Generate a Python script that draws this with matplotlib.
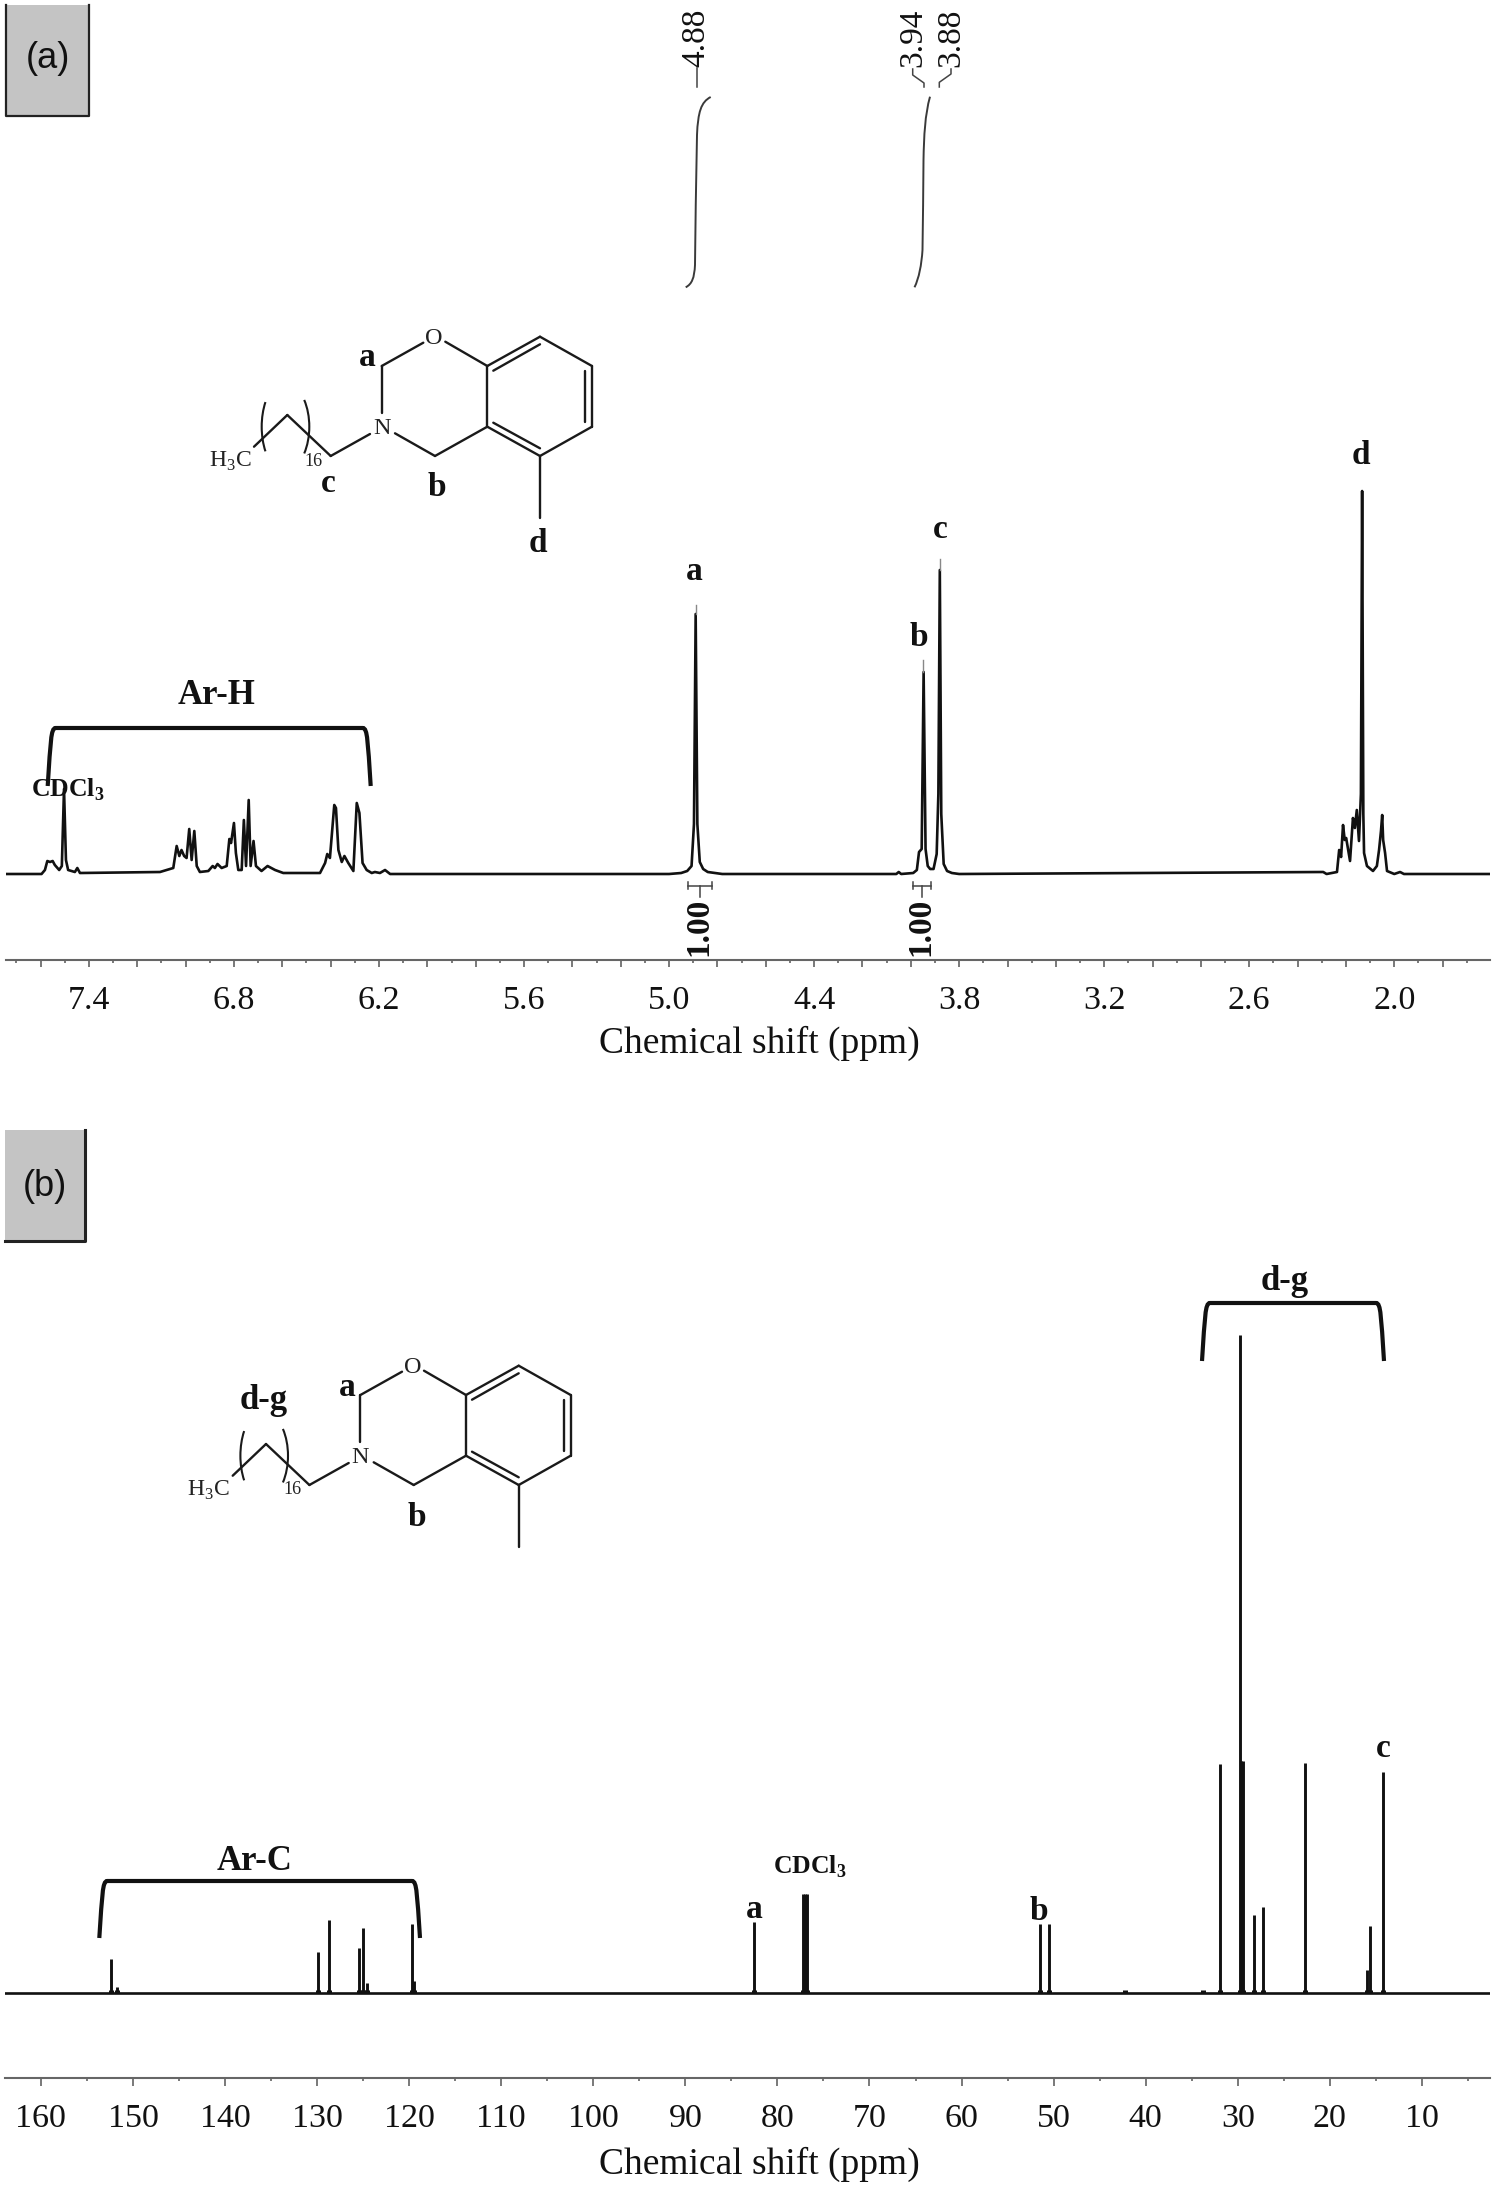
import matplotlib
matplotlib.use('Agg')
import matplotlib.pyplot as plt
from matplotlib.path import Path
from matplotlib.patches import PathPatch, Rectangle, Arc
from matplotlib.ticker import MultipleLocator

plt.rcParams['font.family'] = ['Liberation Serif', 'DejaVu Serif']
plt.rcParams['mathtext.fontset'] = 'custom'
plt.rcParams['mathtext.rm'] = 'Liberation Serif'
plt.rcParams['mathtext.bf'] = 'Liberation Serif:bold'

W, H = 1494, 2189

# 1H spectrum: trace (ppm, height above baseline)
h_ppm = [7.741, 7.596, 7.582, 7.572, 7.561, 7.55, 7.541, 7.523, 7.512, 7.503, 7.495, 7.486, 7.458, 7.448, 7.437,
         7.106, 7.051, 7.037, 7.026, 7.017, 7.006, 6.996, 6.985, 6.975, 6.964, 6.954, 6.941, 6.906, 6.888, 6.879,
         6.868, 6.851, 6.83, 6.819, 6.812, 6.8, 6.792, 6.782, 6.768, 6.759, 6.75, 6.739, 6.731, 6.719, 6.709,
         6.686, 6.661, 6.63, 6.596, 6.444, 6.423, 6.414, 6.403, 6.392, 6.385, 6.378, 6.368, 6.354, 6.343, 6.327,
         6.306, 6.292, 6.281, 6.268, 6.251, 6.23, 6.217, 6.196, 6.175, 6.154,
         5.0, 4.95, 4.925, 4.907, 4.897, 4.89, 4.883, 4.873, 4.859, 4.84, 4.81, 4.78,
         4.06, 4.05, 4.04, 3.99, 3.975, 3.966, 3.955, 3.947, 3.939, 3.93, 3.92, 3.906, 3.893, 3.886, 3.88, 3.874,
         3.864, 3.85, 3.83, 3.8,
         2.294, 2.28, 2.237, 2.228, 2.22, 2.212, 2.205, 2.199, 2.183, 2.171, 2.163, 2.155, 2.146, 2.138, 2.133, 2.128,
         2.125, 2.113, 2.088, 2.072, 2.063, 2.055, 2.05, 2.046, 2.038, 2.03, 2.0, 1.976, 1.96, 1.604]
h_int = [0, 0, 4, 13, 12, 13, 9, 4, 8, 85, 14, 4, 2, 6, 1,
         2, 6, 28, 18, 24, 18, 16, 45, 14, 43, 8, 2, 3, 8, 6,
         10, 6, 8, 35, 31, 51, 21, 4, 4, 54, 8, 74, 8, 33, 8,
         3, 8, 4, 1, 1, 11, 20, 16, 49, 69, 66, 24, 12, 18, 11,
         3, 71, 61, 11, 4, 1, 2, 1, 4, 0,
         0, 1, 3, 8, 50, 260, 50, 12, 5, 2, 1, 0,
         0, 2, 0, 1, 4, 22, 25, 202, 25, 8, 5, 5, 20, 80, 304, 60,
         10, 3, 1, 0,
         2, 0, 2, 24, 17, 49, 34, 36, 13, 56, 46, 64, 33, 80, 383, 60,
         21, 8, 3, 8, 24, 43, 59, 34, 21, 3, 0, 2, 0, 0]

# 13C spectrum: stick peaks
c_ppm = [152.37, 151.75, 129.86, 128.73, 125.43, 124.97, 124.6, 119.72, 119.45, 82.55, 77.25, 77.0, 76.75,
         51.5, 50.5, 42.2, 33.8, 31.98, 29.8, 29.6, 29.42, 28.27, 27.3, 22.7, 15.98, 15.6, 14.24]
c_int = [34, 6, 41, 73, 45, 65, 10, 69, 12, 71, 99, 99, 99,
         69, 69, 2, 2, 229, 658, 232, 232, 78, 86, 230, 23, 67, 221]

# major ticks of (a) every 0.2 ppm, only these are labelled
h_major = [7.6, 7.4, 7.2, 7.0, 6.8, 6.6, 6.4, 6.2, 6.0, 5.8, 5.6, 5.4, 5.2, 5.0, 4.8, 4.6, 4.4, 4.2, 4.0, 3.8,
           3.6, 3.4, 3.2, 3.0, 2.8, 2.6, 2.4, 2.2, 2.0, 1.8]
h_labelled = [7.4, 6.8, 6.2, 5.6, 5.0, 4.4, 3.8, 3.2, 2.6, 2.0]
c_ticks = [160, 150, 140, 130, 120, 110, 100, 90, 80, 70, 60, 50, 40, 30, 20, 10]


def axes_at(fig, x0, x1, ytop, ybot):
    return fig.add_axes([x0 / W, 1 - ybot / H, (x1 - x0) / W, (ybot - ytop) / H])


def setup_axis(ax, ticks, labels, minor, pad, major_len, ylim, label_y):
    ax.set_ylim(*ylim)
    ax.set_xticks(ticks)
    ax.set_xticklabels(labels, fontsize=24.5, color='#111111')
    ax.xaxis.set_minor_locator(MultipleLocator(minor))
    ax.tick_params(axis='x', which='major', length=major_len, width=1.1, color='#555555', pad=pad)
    ax.tick_params(axis='x', which='minor', length=2.5, width=1.1, color='#555555')
    ax.set_yticks([])
    ax.patch.set_visible(False)
    for s in ['top', 'left', 'right']:
        ax.spines[s].set_visible(False)
    ax.spines['bottom'].set_color('#666666')
    ax.spines['bottom'].set_linewidth(1.5)
    ax.set_xlabel('Chemical shift (ppm)', fontsize=27, color='#111111', va='center')
    ax.xaxis.set_label_coords(0.508, label_y)


fig = plt.figure(figsize=(W / 100, H / 100), dpi=100)

# panel (a)
ax_a = axes_at(fig, 6, 1490, 90, 960)
ax_a.set_xlim(7.743, 1.604)
ax_a.plot(h_ppm, h_int, color='#111111', lw=1.9, solid_joinstyle='round')
h_labels = [str(t) if t in h_labelled else '' for t in h_major]
setup_axis(ax_a, h_major, h_labels, 0.1, 13.7, 5, (-86, 784), -(1043 - 960) / (960 - 90))

# panel (b)
ax_b = axes_at(fig, 5, 1490, 1250, 2078)
ax_b.set_xlim(163.9, 2.6)
ax_b.axhline(0, color='#111111', lw=1.9)
ax_b.vlines(c_ppm, 0, c_int, color='#111111', lw=2.1)
ax_b.vlines(c_ppm, 0, 3, color='#111111', lw=3.6)
setup_axis(ax_b, c_ticks, [str(t) for t in c_ticks], 5, 13, 5.5, (-85, 743), -(2164 - 2078) / (2078 - 1250))

# overlay in picture pixels for labels, brackets and the structures
ov = fig.add_axes([0, 0, 1, 1])
ov.set_xlim(0, W)
ov.set_ylim(H, 0)
ov.axis('off')
ov.patch.set_visible(False)


def bond(x0, y0, x1, y1, lw=1.7, color='#1a1a1a'):
    ov.plot([x0, x1], [y0, y1], color=color, lw=lw, solid_capstyle='round')


def bracket(x0, x1, ytop, ybot):
    verts = [(x0, ybot), (x0 + 3, ytop + 14), (x0 + 3, ytop), (x0 + 8, ytop),
             (x1 - 8, ytop), (x1 - 3, ytop), (x1 - 3, ytop + 14), (x1, ybot)]
    codes = [Path.MOVETO, Path.CURVE4, Path.CURVE4, Path.CURVE4, Path.LINETO, Path.CURVE4, Path.CURVE4, Path.CURVE4]
    ov.add_patch(PathPatch(Path(verts, codes), fc='none', ec='#111111', lw=3, capstyle='butt'))


def bold_label(x, y, s, size=24):
    ov.text(x, y + 2, s, fontsize=size, fontweight='bold', ha='center', va='center', color='#111111')


def integral(points):
    codes = [Path.MOVETO] + [Path.CURVE4] * (len(points) - 1)
    ov.add_patch(PathPatch(Path(points, codes), fc='none', ec='#3a3a3a', lw=1.4))


def molecule(dx, dy):
    ring = [(487.3, 366), (540, 336.7), (592, 366), (592, 426.7), (540, 456), (487.3, 426.7), (487.3, 366)]
    for (x0, y0), (x1, y1) in zip(ring[:-1], ring[1:]):
        bond(x0 + dx, y0 + dy, x1 + dx, y1 + dy)
    segs = [(493.3, 370.7, 540, 344.3), (585.3, 371, 585.3, 421.7), (493.3, 422.7, 540, 448.3),
            (487.3, 366, 445.3, 341.7), (423.3, 342.7, 381.7, 366), (381.7, 366, 381.7, 413.3),
            (395, 433.3, 435, 456), (435, 456, 487.3, 426.7), (370, 434, 330.7, 456),
            (330.7, 456, 287.3, 415), (287.3, 415, 254, 446.7), (540, 456, 540, 518.3)]
    for s in segs:
        bond(s[0] + dx, s[1] + dy, s[2] + dx, s[3] + dy)
    # repeat-unit parentheses
    ov.add_patch(Arc((284.7 + dx, 426.7 + dy), 46, 90, theta1=128, theta2=232, ec='#1a1a1a', lw=1.5))
    ov.add_patch(Arc((283.3 + dx, 426.7 + dy), 52, 90, theta1=-52, theta2=52, ec='#1a1a1a', lw=1.5))
    ov.text(434 + dx, 338.3 + dy, 'O', fontsize=17.5, ha='center', va='center', color='#222222')
    ov.text(381.7 + dx, 428.3 + dy, 'N', fontsize=17.5, ha='center', va='center', color='#222222')
    ov.text(230 + dx, 461 + dy, r'H$_{3}$C', fontsize=17, ha='center', va='center', color='#222222')
    ov.text(313.3 + dx, 461 + dy, '16', fontsize=13, ha='center', va='center', color='#222222')


# grey panel tags
ov.add_patch(Rectangle((6, 5), 83, 111, fc='#c4c4c4', ec='none'))
ov.plot([6, 6, 89, 89], [5, 116, 116, 5], color='#222222', lw=1.6)
ov.text(48, 59, '(a)', family=['Liberation Sans'], fontsize=26, ha='center', va='center', color='#111111')
ov.add_patch(Rectangle((5, 1130), 80, 111, fc='#c4c4c4', ec='none'))
ov.plot([5, 85, 85], [1241, 1241, 1130], color='#222222', lw=2.2)
ov.text(45, 1186, '(b)', family=['Liberation Sans'], fontsize=26, ha='center', va='center', color='#111111')

# peak picks along the top of (a)
for x, s in [(696, '4.88'), (912.7, '3.94'), (951, '3.88')]:
    ov.text(x, 38, s, rotation=90, fontsize=24, ha='center', va='center', color='#111111')
ov.plot([697, 697], [68, 87], color='#444444', lw=1.1)
ov.plot([912.7, 912.7, 924, 924], [69, 75, 83, 87], color='#444444', lw=1.1)
ov.plot([951, 951, 939.3, 939.3], [69, 74, 82.3, 87], color='#444444', lw=1.1)

# integral curves
integral([(710.7, 97), (701, 102), (698, 112), (697, 135),
          (696, 180), (695.5, 230), (695, 265),
          (694.3, 278), (692, 284), (685.7, 287.3)])
integral([(930, 96.7), (925, 115), (924, 135), (923.5, 160),
          (923.2, 190), (923, 220), (922.5, 250),
          (921.5, 265), (919, 278), (914.5, 287.3)])

# integral values under the (a) baseline
ov.text(699, 927, '1.00', rotation=90, fontsize=24, fontweight='bold', ha='center', va='center', color='#111111')
ov.text(921, 927, '1.00', rotation=90, fontsize=24, fontweight='bold', ha='center', va='center', color='#111111')
for x0, x1, xs in [(688, 711.7, 700), (913.3, 930.7, 921.7)]:
    ov.plot([x0, x1], [885.7, 885.7], color='#444444', lw=1.1)
    ov.plot([x0, x0], [882, 889], color='#444444', lw=1.1)
    ov.plot([x1, x1], [882, 889], color='#444444', lw=1.1)
    ov.plot([xs, xs], [885.7, 897.3], color='#444444', lw=1.1)

# grey stems over the tallest picks
ov.plot([696, 696], [605, 614], color='#888888', lw=1)
ov.plot([923, 923], [660, 672], color='#888888', lw=1)
ov.plot([940, 940], [559, 570], color='#888888', lw=1)

# panel (a) annotations
bracket(47.7, 370.7, 728, 786)
bold_label(217, 693, 'Ar-H', 25)
bold_label(68, 788, r'CDCl$_{\mathbf{3}}$', 18.5)
bold_label(694, 570, 'a')
bold_label(919, 635, 'b')
bold_label(940, 528, 'c')
bold_label(1361, 454, 'd')
molecule(0, 0)
bold_label(367.3, 356, 'a')
bold_label(437.3, 485, 'b')
bold_label(328.3, 481.7, 'c')
bold_label(538.3, 541.7, 'd')

# panel (b) annotations
bracket(99.3, 420, 1881, 1938)
bold_label(255, 1859, 'Ar-C', 25)
bracket(1202, 1384, 1303, 1361)
bold_label(1284.6, 1280, 'd-g', 25)
bold_label(810, 1865, r'CDCl$_{\mathbf{3}}$', 18.5)
bold_label(754, 1907, 'a')
bold_label(1039, 1909, 'b')
bold_label(1383.7, 1746.7, 'c')
molecule(-21.3, 1029)
bold_label(347.3, 1385.7, 'a')
bold_label(416.7, 1515, 'b')
bold_label(264, 1398.3, 'd-g', 25)

fig.savefig('out.png', dpi=100, facecolor='white')
